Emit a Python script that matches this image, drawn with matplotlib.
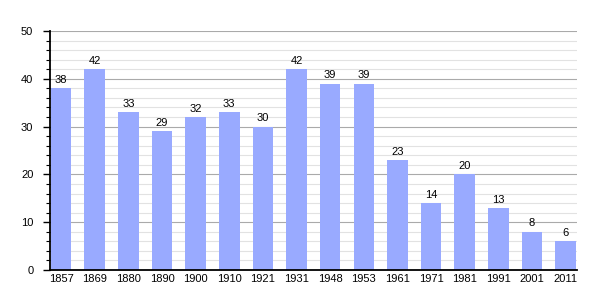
import matplotlib
matplotlib.use("Agg")
import matplotlib.pyplot as plt
import numpy as np

plt.rcParams['font.family'] = ['Liberation Sans', 'DejaVu Sans']

years = ["1857", "1869", "1880", "1890", "1900", "1910", "1921", "1931",
         "1948", "1953", "1961", "1971", "1981", "1991", "2001", "2011"]
population = [38, 42, 33, 29, 32, 33, 30, 42, 39, 39, 23, 14, 20, 13, 8, 6]

fig = plt.figure(figsize=(6.05, 3.0), dpi=100)
ax = fig.add_axes([50/605, 30/300, 527/605, 239/300])

x = np.arange(len(years))
ax.bar(x, population, width=0.61, color="#99aaff", zorder=3)
for xi, v in zip(x, population):
    ax.text(xi, v + 0.7, str(v), ha="center", va="bottom", fontsize=8, color="#000000", zorder=4)

ax.set_xlim(-0.33, len(years) - 1 + 0.34)
ax.set_ylim(0, 50)
ax.set_xticks(x)
ax.set_xticklabels(years, fontsize=8)
ax.tick_params(axis="x", length=0, pad=3)
ax.set_yticks(np.arange(0, 51, 10))
ax.set_yticks(np.arange(0, 51, 2), minor=True)
ax.tick_params(axis="y", which="major", length=5, width=1, labelsize=8, direction="out", pad=7)
ax.tick_params(axis="y", which="minor", length=3, width=0.8, direction="out")
ax.grid(axis="y", which="major", color="#aaaaaa", linewidth=0.8, zorder=1)
ax.grid(axis="y", which="minor", color="#e2e2e2", linewidth=0.8, zorder=0)
for s in ["top", "right"]:
    ax.spines[s].set_visible(False)
ax.spines["left"].set_linewidth(1.3)
ax.spines["bottom"].set_linewidth(1.3)
ax.spines["left"].set_zorder(5)
ax.spines["bottom"].set_zorder(5)

fig.savefig("out.png", dpi=100)
